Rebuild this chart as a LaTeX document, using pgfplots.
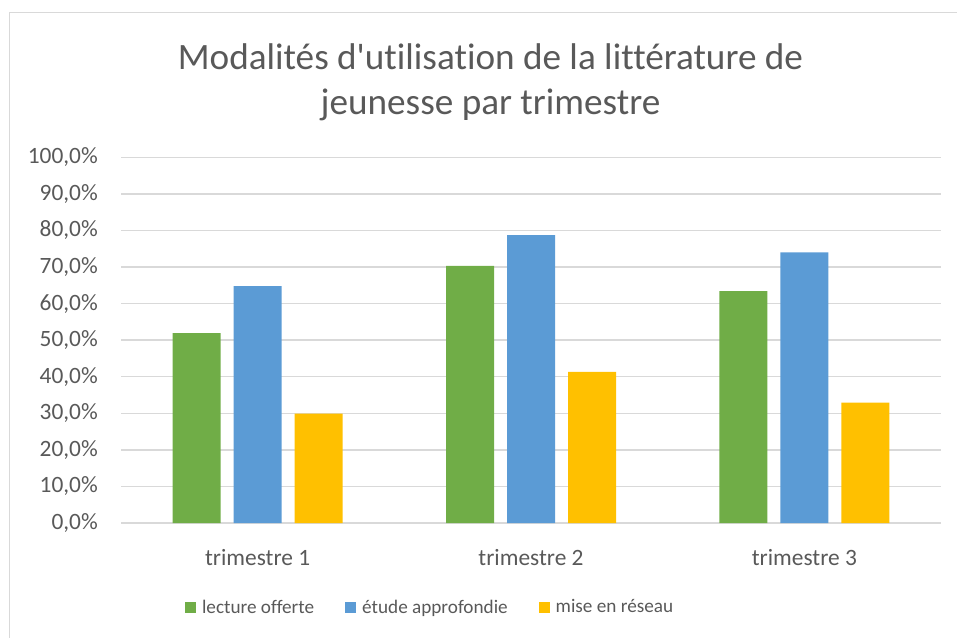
\documentclass[border=0pt]{standalone}
\usepackage{pgfplots}
\pgfplotsset{compat=1.18}
\usepackage{fontspec}
\setmainfont{Carlito}[Ligatures={TeXOff,CommonOff}]
\definecolor{cgreen}{HTML}{70AD47}
\definecolor{cblue}{HTML}{5B9BD5}
\definecolor{cyellow}{HTML}{FFC000}
\definecolor{cgrid}{HTML}{D9D9D9}
\definecolor{ctext}{HTML}{595959}
\begin{document}
\begin{tikzpicture}
\useasboundingbox (0pt,0pt) rectangle (957pt,637pt);
\draw[cgrid, line width=1.3pt] (9.5pt,-5pt) -- (9.5pt,624.5pt) -- (962pt,624.5pt);
\node[align=center, text=ctext, font=\fontsize{37.2}{45}\selectfont] at (490.5pt,555pt)
  {Modalités d'utilisation de la littérature de\\jeunesse par trimestre};
\begin{axis}[
  at={(121pt,114pt)}, anchor=south west,
  width=820pt, height=365.7pt, scale only axis,
  ybar=13pt, bar width=48pt,
  xmin=-0.5, xmax=2.5, ymin=0, ymax=100,
  xtick=data, xticklabels={trimestre 1, trimestre 2, trimestre 3},
  ytick={0,10,...,100},
  yticklabel={\pgfmathprintnumber[fixed,fixed zerofill,precision=1,use comma,assume math mode=true]{\tick}\%},
  axis line style={draw=none},
  tick style={draw=none},
  ymajorgrids, grid style={cgrid, line width=1.3pt},
  tick label style={text=ctext, font=\fontsize{23.4}{28}\selectfont, inner sep=0pt},
  yticklabel style={xshift=-23pt},
  xticklabel style={yshift=-22pt},
  legend style={at={(0.377,-0.23)}, anchor=center, draw=none, fill=none,
    legend columns=-1, text=ctext, font=\fontsize{19.2}{24}\selectfont,
    /tikz/every odd column/.append style={column sep=4pt},
    /tikz/every even column/.append style={column sep=29pt},
    inner sep=0pt},
  legend image code/.code={\fill[#1] (0pt,-5.5pt) rectangle (11pt,5.5pt);},
  legend cell align=left,
]
\addplot[draw=none, fill=cgreen] coordinates {(0,51.9) (1,70.3) (2,63.4)};
\addplot[draw=none, fill=cblue] coordinates {(0,64.8) (1,78.7) (2,74.0)};
\addplot[draw=none, fill=cyellow] coordinates {(0,29.9) (1,41.3) (2,32.9)};
\legend{lecture offerte, étude approfondie, mise en réseau}
\end{axis}
\end{tikzpicture}
\end{document}
